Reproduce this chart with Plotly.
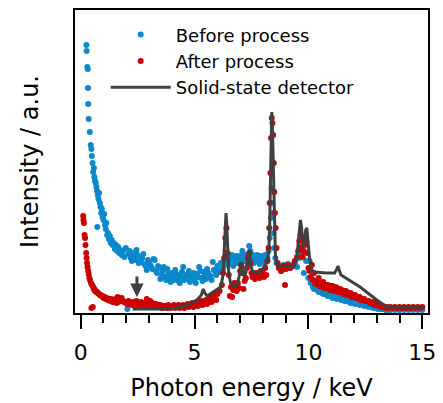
import plotly.graph_objects as go

# ---------------- data (intensity in arbitrary units) ----------------
before_energy = [0.25,0.26,0.29,0.31,0.32,0.33,0.35,0.40,0.44,0.47,0.49,0.52,0.55,0.58,0.60,0.63,0.66,0.69,0.72,0.73,
                 0.75,0.78,0.81,0.84,0.87,0.90,0.93,0.96,1.00,1.03,1.07,1.10,1.13,1.16,1.20,1.24,1.28,1.32,1.36,1.40,
                 1.45,1.50,1.55,1.60,1.65,1.70,1.75,1.80,1.86,1.92,1.98,
                 2.1,2.2,2.3,2.4,2.5,2.6,2.7,2.8,2.9,3.0,3.1,3.2,3.3,3.4,3.5,3.6,3.7,3.8,3.9,4.0,4.1,4.2,4.3,4.4,
                 4.5,4.6,4.7,4.8,4.9,5.0,5.1,5.2,5.3,5.4,5.5,5.6,5.7,5.8,5.9,6.0,6.1,6.2,6.3,6.4,6.5,6.6,6.7,6.8,
                 6.9,7.0,7.1,7.2,7.3,7.4,7.5,7.6,7.7,7.8,7.9,8.0,8.1,8.2,8.25,8.3,8.35,8.38,8.4,8.43,8.46,8.5,8.55,
                 8.6,8.7,8.8,8.9,9.0,9.1,9.2,9.3,9.4,9.5,9.6,9.7,9.8,9.9,10.0,10.1,10.2,10.3,10.4,10.5,10.6,10.7,
                 10.8,10.9,11.0,11.1,11.2,11.3,11.4,11.5,11.6,11.7,11.8,11.9,12.0,12.1,12.2,12.3,12.4,12.5,12.6,
                 12.7,12.8,12.9,13.0,13.1,13.2,13.3,13.4,13.5,13.6,13.7,13.8,13.9,14.0,14.1,14.2,14.3,14.4,14.5,
                 14.6,14.7,14.8,14.9,15.0]
before_intensity = [268,262,246,244,225,209,194,181,168,164,157,150,141,145,136,132,130,126,122,86,
                    118,114,120,110,106,100,104,96,93,99,88,84,90,78,80,74,77,70,73,68,
                    70,64,68,62,66,60,63,58,62,56,65,
                    59,55,60,53,58,51,55,49,43,51,46,54,42,47,34,42,36,44,35,40,33,39,32,37,
                    46,34,38,31,37,33,39,46,35,41,34,40,37,51,42,47,41,49,52,60,50,54,47,55,
                    50,57,62,52,58,67,55,50,56,52,57,53,58,55,62,75,95,125,110,100,80,65,55,
                    50,46,42,48,44,49,45,48,50,46,55,58,40,52,35,30,26,28,23,24,20,22,
                    18,21,17,19,15,17,14,15,12,14,11,12,10,11,9,10,8,8,7,
                    7,6,6,5,5,4,4,3,4,3,4,3,4,3,4,3,4,3,4,3,
                    4,3,4,3,4]
# additional (interleaved) readings of the scattered "before" points
before_energy_b = [2.05,2.15,2.25,2.35,2.45,2.55,2.65,2.75,2.85,2.95,3.05,3.15,3.25,3.35,3.45,3.55,3.65,3.75,3.85,3.95,
                   4.05,4.15,4.25,4.35,4.45,4.55,4.65,4.75,4.85,4.95,5.05,5.15,5.25,5.35,5.45,5.55,5.65,5.75,5.85,5.95,
                   6.05,6.15,6.25,6.35,6.45,6.55,6.65,6.75,6.85,6.95,7.05,7.15,7.25,7.35,7.45,7.55,7.65,7.75,7.85,7.95,
                   8.05,8.15,
                   10.05,10.15,10.25,10.35,10.45,10.55,10.65,10.75,10.85,10.95,11.05,11.15,11.25,11.35,11.45,11.55,
                   11.65,11.75,11.85,11.95,12.05,12.15,12.25,12.35,12.45,12.55,12.65,12.75,12.85,12.95,13.05,13.15,
                   13.25,13.35,13.45]
before_intensity_b = [62,52,57,63,50,54,59,47,53,48,44,53,40,45,38,46,33,40,31,38,
                      43,35,30,41,33,38,42,35,40,30,36,42,32,38,44,36,33,43,38,45,
                      50,44,55,48,53,58,50,57,52,47,55,58,49,62,58,52,58,49,55,50,
                      56,52,
                      32,24,27,21,24,19,21,17,19,15,18,14,16,13,15,12,
                      13,10,12,9,10,8,9,7,8,6,7,5,6,4,5,4,
                      4,3,4]

after_energy = [0.11,0.12,0.14,0.17,0.19,0.21,0.24,0.26,0.28,0.30,0.33,0.35,0.38,0.41,0.45,0.50,0.55,0.60,0.66,0.72,
                0.80,0.88,0.96,1.05,1.15,1.25,1.35,1.45,1.55,1.62,1.68,1.75,1.85,1.95,
                2.0,2.1,2.2,2.3,2.4,2.5,2.6,2.7,2.8,2.9,3.0,3.1,3.2,3.3,3.4,3.5,3.6,3.7,3.8,3.9,4.0,4.1,4.2,4.3,
                4.4,4.5,4.6,4.7,4.8,4.9,5.0,5.1,5.2,5.3,5.4,5.5,5.6,5.7,5.8,5.9,6.0,6.1,6.2,6.25,6.3,6.35,6.4,
                6.45,6.5,6.6,6.7,6.8,6.9,7.0,7.05,7.1,7.2,7.3,7.35,7.4,7.45,7.5,7.6,7.7,7.8,7.9,8.0,8.1,8.2,8.25,
                8.28,8.3,8.33,8.36,8.39,8.42,8.45,8.48,8.5,8.53,8.56,8.6,8.65,8.7,8.8,8.9,8.97,9.0,9.1,9.2,9.3,
                9.4,9.5,9.55,9.6,9.65,9.7,9.75,9.8,9.85,9.9,9.95,10.0,10.1,10.2,10.3,10.4,10.5,10.6,10.7,10.8,
                10.9,11.0,11.1,11.2,11.3,11.4,11.5,11.6,11.7,11.8,11.9,12.0,12.1,12.2,12.3,12.4,12.5,12.6,12.7,
                12.8,12.9,13.0,13.1,13.2,13.3,13.4,13.5,13.6,13.7,13.8,13.9,14.0,14.1,14.2,14.3,14.4,14.5,14.6,
                14.7,14.8,14.9,15.0]
after_intensity = [97,93,90,78,75,68,60,55,50,46,42,39,35,33,30,28,26,24,22,21,
                   19,18,17,16,15,14,14,13,14,16,14,12,12,11,
                   10,12,9,11,8,10,8,10,9,14,11,8,7,9,6,8,5,7,5,7,6,8,6,8,
                   6,8,7,9,7,10,8,11,9,12,10,13,12,16,15,18,19,22,28,40,55,75,85,
                   60,38,26,23,27,30,42,48,40,32,45,55,60,50,40,36,40,38,42,40,45,52,65,
                   85,110,140,175,195,190,178,150,121,100,85,65,50,45,42,47,28,44,48,45,47,
                   52,56,62,72,78,66,56,62,68,72,60,45,36,33,29,32,27,30,25,28,
                   24,27,23,26,21,24,20,22,18,20,16,18,15,16,13,14,12,12,10,
                   10,8,8,7,6,6,5,5,6,5,6,5,6,5,6,5,6,5,6,5,
                   6,5,6,5,6]
# additional (interleaved) readings of the scattered "after" points
after_energy_b = [0.47,0.53,0.58,0.63,0.69,0.75,0.84,0.92,1.00,1.10,1.20,1.30,1.40,1.50,1.58,1.65,1.72,1.80,1.90,
                  2.05,2.15,2.25,2.35,2.45,2.55,2.65,2.75,2.85,2.95,3.05,3.15,3.25,3.35,3.45,3.55,3.65,3.75,3.85,3.95,
                  4.05,4.15,4.25,4.35,4.45,4.55,4.65,4.75,4.85,4.95,5.05,5.15,5.25,5.35,5.45,5.55,5.65,5.75,5.85,5.95,
                  6.55,6.65,6.75,6.85,6.95,7.15,7.25,7.55,7.65,7.75,7.85,7.95,8.05,8.15,
                  10.05,10.15,10.25,10.35,10.45,10.55,10.65,10.75,10.85,10.95,11.05,11.15,11.25,11.35,11.45,11.55,
                  11.65,11.75,11.85,11.95,12.05,12.15,12.25,12.35,12.45,12.55,12.65,12.75,12.85,12.95,13.05,13.15,
                  13.25,13.35,13.45]
after_intensity_b = [24,22,21,20,18,17,15,14,13,12,11,11,10,11,13,15,11,9,9,
                     8,10,12,8,11,7,9,7,12,10,9,6,8,5,7,6,8,5,6,5,
                     7,5,7,5,7,6,8,6,9,7,10,8,11,9,12,11,14,13,17,16,
                     30,22,25,24,35,36,34,37,35,42,36,38,42,48,
                     40,30,35,27,31,25,28,23,27,22,25,21,23,19,22,18,
                     20,16,18,15,16,13,14,12,12,10,11,9,9,7,7,6,
                     6,5,5]

ssd_energy = [2.28,3.0,3.9,4.4,4.8,5.1,5.3,5.38,5.45,5.55,5.75,6.0,6.15,6.25,6.3,6.35,6.38,6.41,6.45,6.5,
              6.58,6.7,6.85,6.95,7.05,7.1,7.17,7.25,7.33,7.4,7.47,7.55,7.87,8.1,8.2,8.26,8.3,8.34,8.37,8.39,
              8.41,8.44,8.47,8.5,8.55,8.6,8.7,9.34,9.4,9.5,9.58,9.65,9.7,9.76,9.82,9.88,9.93,9.98,10.05,10.15,
              10.25,10.8,11.15,11.25,11.3,11.35,11.43,12.27,13.0,13.45,15.03]
ssd_intensity = [4,4,4,6,9,13,18,24,20,17,20,23,26,38,60,92,100,90,60,40,
                 30,27,27,36,51,46,37,40,52,63,48,41,41,47,52,62,90,150,190,201,
                 195,160,115,85,58,50,47,46,48,58,78,93,85,66,70,83,85,70,54,43,
                 41,40,40,44,47,43,38,26,13,6,6]

x_ticks = [0, 5, 10, 15]
x_tick_labels = ["0", "5", "10", "15"]

FONT = "DejaVu Sans"

fig = go.Figure()
fig.add_trace(go.Scatter(x=before_energy + before_energy_b, y=before_intensity + before_intensity_b,
                         mode="markers", name="Before process", legendgroup="a",
                         marker=dict(color="#0a88cc", size=6, line=dict(width=0))))
fig.add_trace(go.Scatter(x=after_energy + after_energy_b, y=after_intensity + after_intensity_b,
                         mode="markers", name="After process", legendgroup="b",
                         marker=dict(color="#cc0000", size=6, line=dict(width=0))))
fig.add_trace(go.Scatter(x=ssd_energy, y=ssd_intensity, mode="lines", name="Solid-state detector",
                         legendgroup="c",
                         line=dict(color="#404040", width=3)))

fig.add_annotation(x=2.47, y=16, ax=0, ay=-22, xref="x", yref="y", axref="pixel", ayref="pixel",
                   showarrow=True, arrowhead=2, arrowsize=0.9, arrowwidth=3, arrowcolor="#404040", text="")

fig.update_layout(
    width=443, height=403,
    margin=dict(l=75, r=15, t=10, b=90, autoexpand=False),
    paper_bgcolor="white", plot_bgcolor="white",
    font=dict(family=FONT, color="black"),
    showlegend=True,
    legend=dict(x=0.087, y=0.979, xanchor="left", yanchor="top", bgcolor="rgba(0,0,0,0)",
                font=dict(size=18, family=FONT, color="black"), itemwidth=60, tracegroupgap=0),
    xaxis=dict(range=[-0.25, 15.25], tickvals=x_ticks, ticktext=x_tick_labels, automargin=False,
               ticks="outside", ticklen=14, tickwidth=2, tickcolor="black", ticklabelstandoff=5,
               minor=dict(dtick=1, ticks="outside", ticklen=8, tickwidth=2, tickcolor="black"),
               showline=True, linecolor="black", linewidth=2, mirror=True,
               showgrid=False, zeroline=False,
               tickfont=dict(size=22, family=FONT, color="black"),
               title=dict(text="Photon energy / keV", font=dict(size=24, family=FONT, color="black"), standoff=15)),
    yaxis=dict(range=[0, 303], showticklabels=False, ticks="", automargin=False,
               showline=True, linecolor="black", linewidth=2, mirror=True,
               showgrid=False, zeroline=False,
               title=dict(text="Intensity / a.u.", font=dict(size=24, family=FONT, color="black"), standoff=28)),
)

fig.write_html("out.html", config={"displayModeBar": False},
               post_script="document.body.style.margin='0';document.body.style.overflow='hidden';")
